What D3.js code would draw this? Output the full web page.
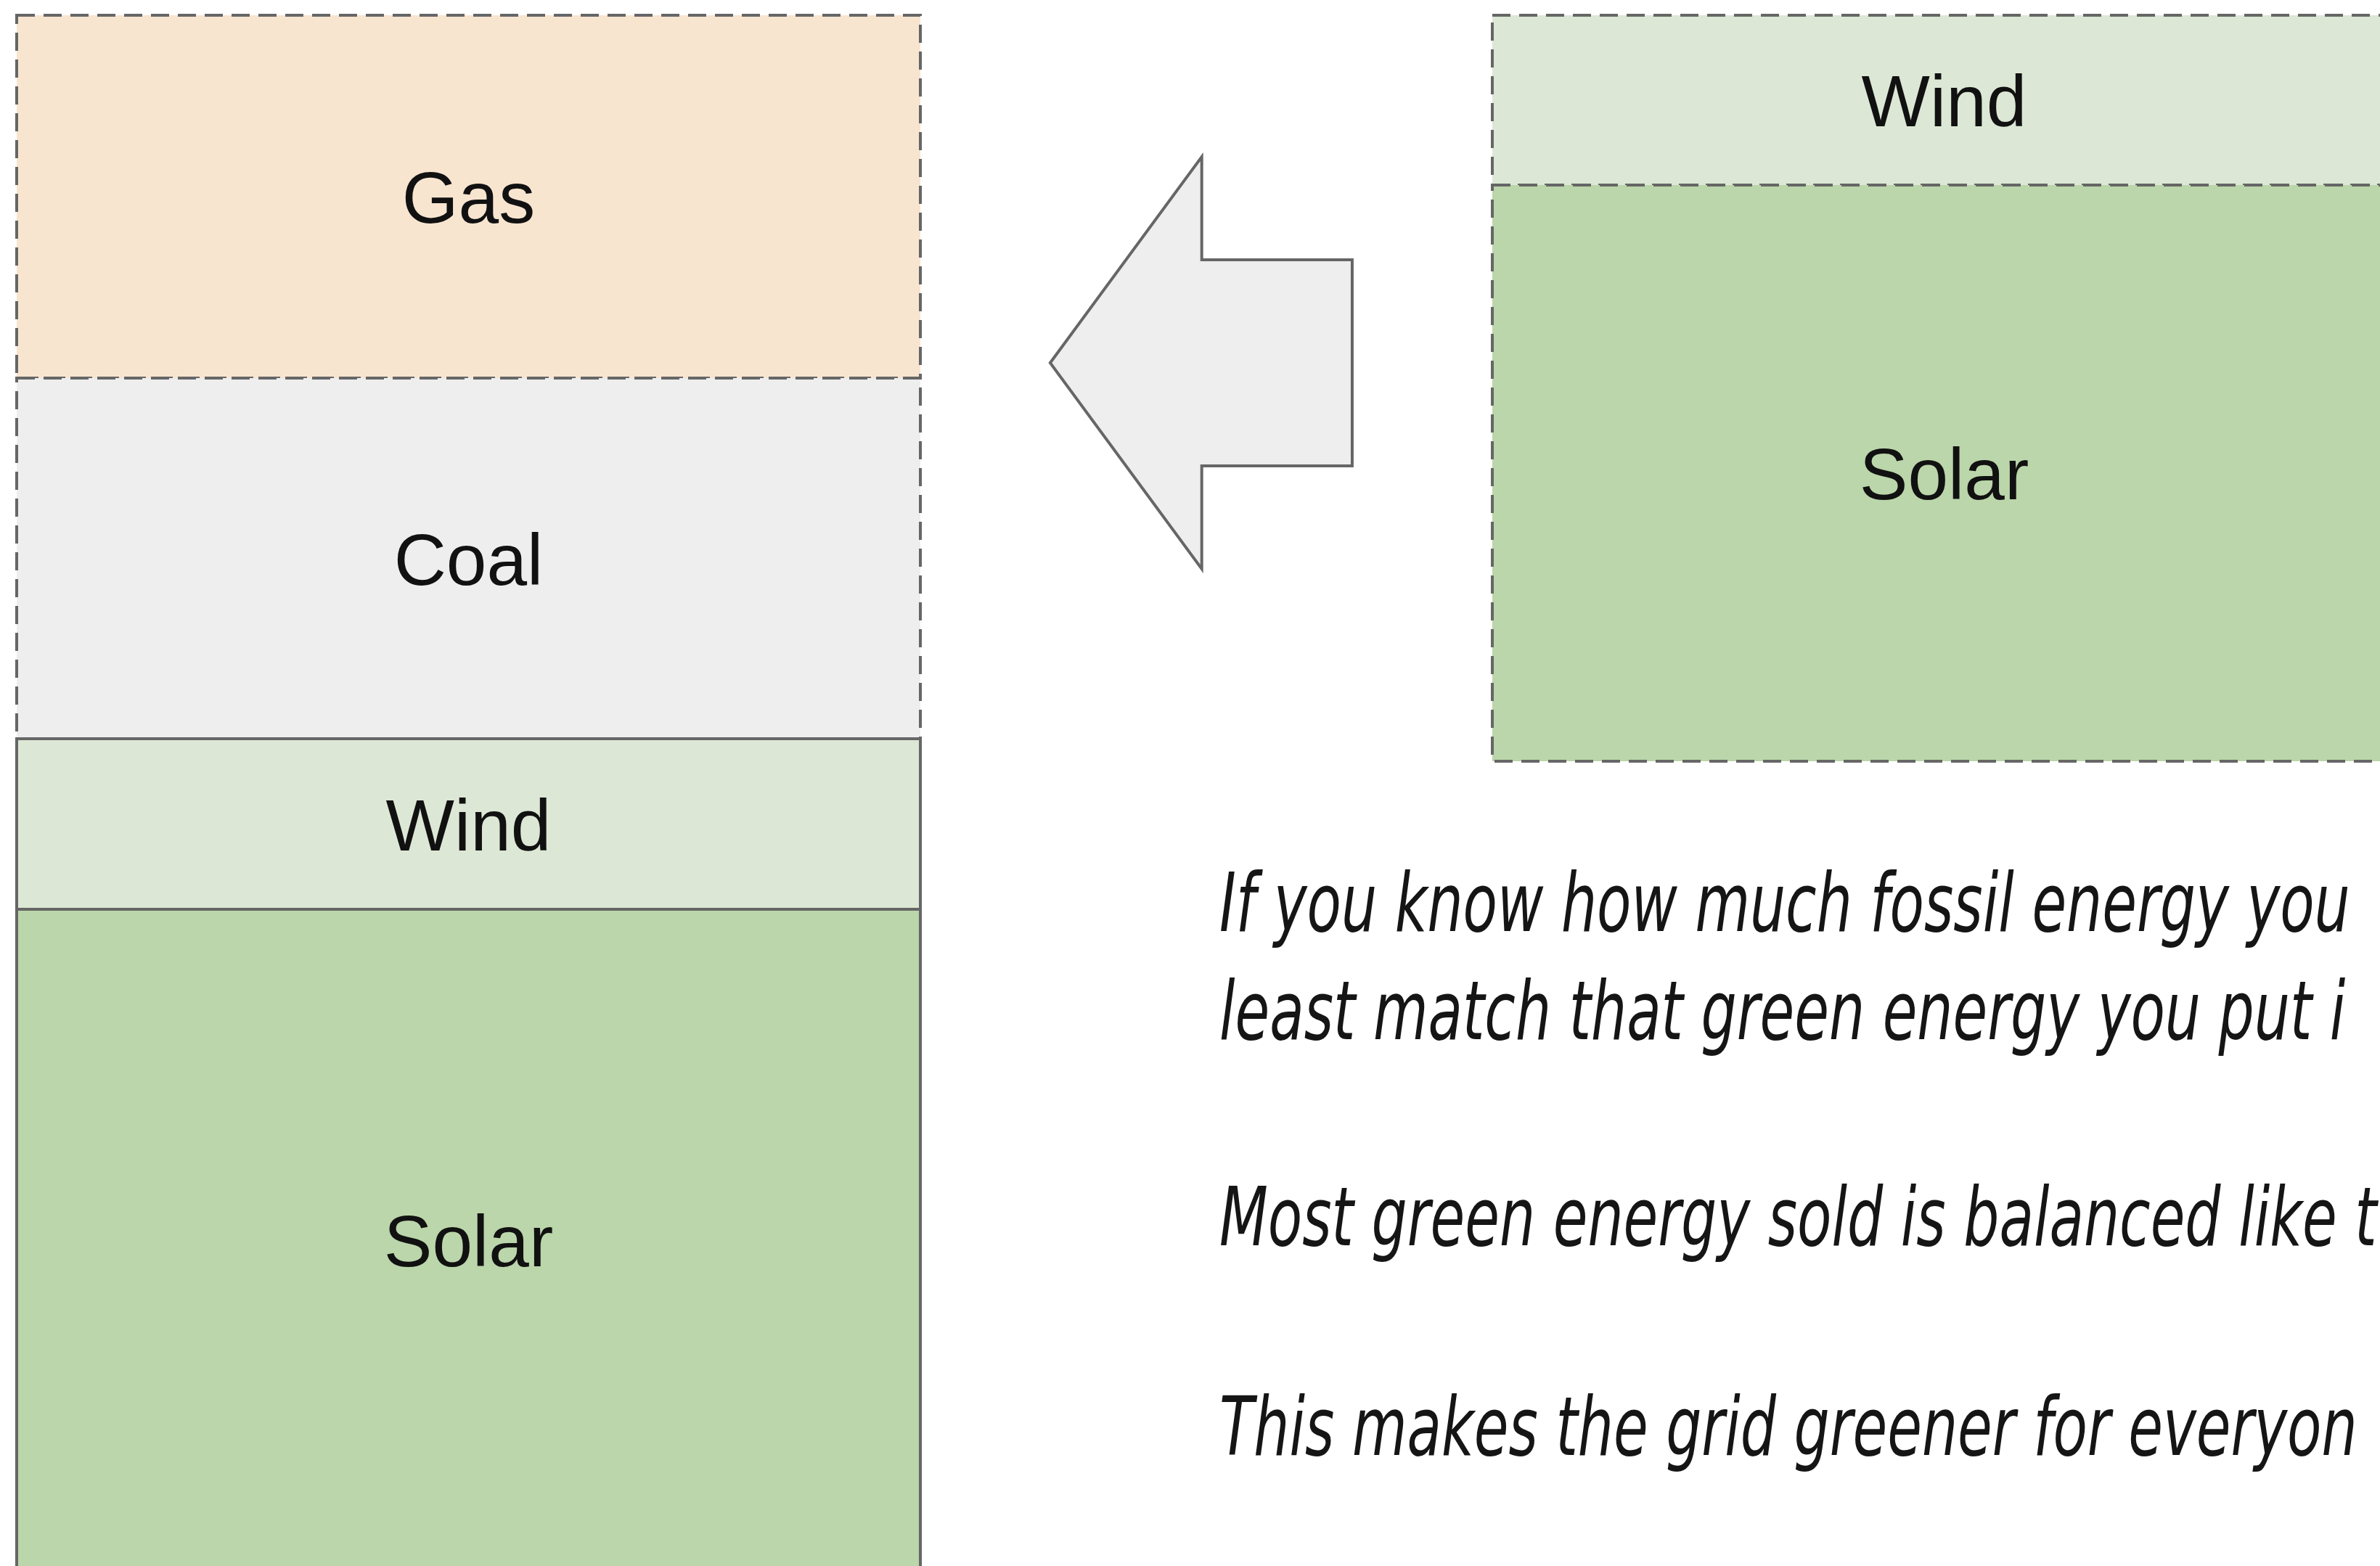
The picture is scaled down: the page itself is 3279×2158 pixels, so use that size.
<!DOCTYPE html>
<html>
<head>
<meta charset="utf-8">
<script src="https://cdn.jsdelivr.net/npm/d3@7"></script>
<style>
  html, body { margin: 0; padding: 0; background: #ffffff; overflow: hidden; }
  svg { display: block; }
</style>
</head>
<body>
<div id="chart"></div>
<script>
// ---- data ----
const columns = ["Grid mix", "Green purchase"];
const gridCategories = ["Gas", "Coal", "Wind", "Solar"];
const gridValues = [5.0, 4.97, 2.35, 9.12];
const greenCategories = ["Wind", "Solar"];
const greenValues = [2.34, 7.94];
const notes = [
  "If you know how much fossil energy you",
  "least match that green energy you put i",
  "Most green energy sold is balanced like t",
  "This makes the grid greener for everyon"
];

// ---- styles ----
const fillColor = { Gas: "#f8e5d0", Coal: "#eeeeee", Wind: "#dce8d5", Solar: "#bbd6aa" };
const gridDashed = [true, true, false, false];
const greenDashed = [true, true];
const strokeColor = "#666666";

const W = 3279, H = 2158;
const svg = d3.select("#chart").append("svg").attr("width", W).attr("height", H);

const x = d3.scaleBand().domain(columns).range([23, 3301]).paddingInner(0.3876).paddingOuter(0);
const y = d3.scaleLinear().domain([0, 21.44]).range([21, 2165]);

function stackData(cats, vals, dashed) {
  let acc = 0;
  return cats.map((c, i) => {
    const d = { cat: c, y0: acc, y1: acc + vals[i], dashed: dashed[i] };
    acc += vals[i];
    return d;
  });
}

function drawColumn(col, data) {
  const g = svg.append("g");
  // dashed first, solid after so solid borders sit on top
  const ordered = data.filter(d => d.dashed).concat(data.filter(d => !d.dashed));
  g.selectAll("rect").data(ordered).join("rect")
    .attr("x", x(col))
    .attr("y", d => y(d.y0))
    .attr("width", x.bandwidth())
    .attr("height", d => y(d.y1) - y(d.y0))
    .attr("fill", d => fillColor[d.cat])
    .attr("stroke", strokeColor)
    .attr("stroke-width", 4)
    .attr("stroke-dasharray", d => d.dashed ? "25,12" : null);
  g.selectAll("text").data(data).join("text")
    .attr("x", x(col) + x.bandwidth() / 2)
    .attr("y", d => y((d.y0 + d.y1) / 2))
    .attr("dy", "0.36em")
    .attr("text-anchor", "middle")
    .attr("font-family", "'Liberation Sans', Arial, sans-serif")
    .attr("font-size", 100)
    .attr("fill", "#111")
    .text(d => d.cat);
}

drawColumn(columns[0], stackData(gridCategories, gridValues, gridDashed));
drawColumn(columns[1], stackData(greenCategories, greenValues, greenDashed));

// ---- block arrow between the columns, pointing left ----
const gapL = x(columns[0]) + x.bandwidth();
const gapR = x(columns[1]);
const gap = gapR - gapL;
const tipX = gapL + gap * 0.227, headX = gapL + gap * 0.492, tailX = gapL + gap * 0.755;
const cy = y(4.79), headH = y(2.84) - y(0), shaftH = y(1.42) - y(0);
const arrowPts = [
  [tipX, cy], [headX, cy - headH], [headX, cy - shaftH], [tailX, cy - shaftH],
  [tailX, cy + shaftH], [headX, cy + shaftH], [headX, cy + headH]
];
svg.append("path")
  .attr("d", d3.line()(arrowPts) + "Z")
  .attr("fill", "#eeeeee")
  .attr("stroke", strokeColor)
  .attr("stroke-width", 4)
  .attr("stroke-linejoin", "miter");

// ---- handwritten notes ----
const noteX = 1680;
const noteRight = 3272;
const noteBase = [1283, 1432, 1716, 2005];
const noteFont = "'Liberation Sans Narrow', 'DejaVu Sans Condensed', sans-serif";

const ng = svg.append("g");
const noteText = ng.selectAll("text").data(notes).join("text")
  .attr("font-family", noteFont)
  .attr("font-style", "italic")
  .attr("font-size", 112)
  .attr("fill", "#151515")
  .text(d => d);
// common horizontal scale from the first line, capped so no line runs past the edge
const widths = noteText.nodes().map(n => n.getComputedTextLength());
let sx = (noteRight - noteX) / widths[0];
const maxW = d3.max(widths);
if (maxW * sx > (W - 4 - noteX)) sx = (W - 4 - noteX) / maxW;
noteText.attr("transform", (d, i) => `translate(${noteX},${noteBase[i]}) scale(${sx},1)`);
</script>
</body>
</html>
